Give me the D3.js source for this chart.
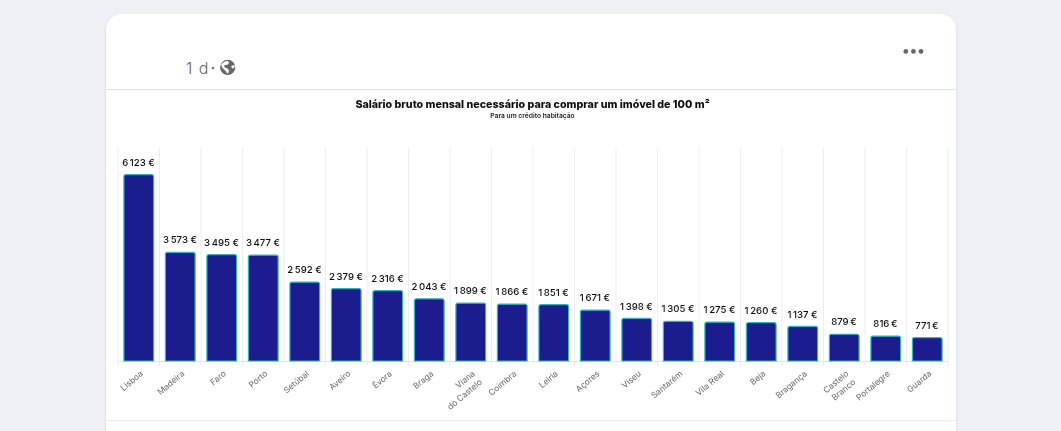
<!DOCTYPE html>
<html><head><meta charset="utf-8">
<script src="https://cdn.jsdelivr.net/npm/d3@7"></script>
<style>
html,body{margin:0;padding:0;background:#eff0f5;overflow:hidden}
svg{display:block}
text{font-family:Inter,"Noto Sans",sans-serif}
</style></head><body>
<svg id="c" width="1061" height="431"></svg>
<script>
const categories=["Lisboa","Madeira","Faro","Porto","Setúbal","Aveiro","Évora","Braga","Viana|do Castelo","Coimbra","Leiria","Açores","Viseu","Santarém","Vila Real","Beja","Bragança","Castelo|Branco","Portalegre","Guarda"];
const values=[6123,3573,3495,3477,2592,2379,2316,2043,1899,1866,1851,1671,1398,1305,1275,1260,1137,879,816,771];
const valueLabels=["6 123 €","3 573 €","3 495 €","3 477 €","2 592 €","2 379 €","2 316 €","2 043 €","1 899 €","1 866 €","1 851 €","1 671 €","1 398 €","1 305 €","1 275 €","1 260 €","1 137 €","879 €","816 €","771 €"];
const titleText="Salário bruto mensal necessário para comprar um imóvel de 100 m²";
const subtitleText="Para um crédito habitação";
const timeText="1 d";
const sepText="·";

const svg=d3.select("#c");
const defs=svg.append("defs");
const sh=defs.append("filter").attr("id","sh").attr("x","-5%").attr("y","-5%").attr("width","110%").attr("height","110%");
sh.append("feDropShadow").attr("dx",0).attr("dy",1).attr("stdDeviation",1).attr("flood-color","#000").attr("flood-opacity",0.14);
const soft=defs.append("filter").attr("id","soft").attr("x","-2%").attr("y","-2%").attr("width","104%").attr("height","104%");
soft.append("feGaussianBlur").attr("stdDeviation",0.4);

// card
svg.append("rect").attr("x",106).attr("y",14).attr("width",850).attr("height",450).attr("rx",16).attr("fill","#fff").attr("filter","url(#sh)");
svg.append("line").attr("x1",106).attr("x2",956).attr("y1",89.5).attr("y2",89.5).attr("stroke","#e2e3e6");
svg.append("line").attr("x1",106).attr("x2",956).attr("y1",420.5).attr("y2",420.5).attr("stroke","#eceded");

// header
svg.append("text").attr("x",186).attr("y",73.5).attr("font-size",16).attr("font-weight",300).attr("letter-spacing",1).attr("fill","#65676b").text(timeText);
svg.append("text").attr("x",213).attr("y",73.5).attr("text-anchor","middle").attr("font-size",16).attr("font-weight",500).attr("fill","#65676b").text(sepText);
const globe=svg.append("g").attr("transform","translate(227.7,67.4)");
globe.append("circle").attr("r",7.6).attr("fill","#65676b");
globe.append("path").attr("fill","#fff").attr("d","M-6.5,-3.2 C-4.5,-5 -2.5,-6.3 -0.5,-6.6 L1.5,-4.6 L-0.2,-2.6 L-3.6,-2.2 L-3,0.2 L-0.4,0.8 L1.4,3.2 L0.2,6.4 C-1.2,5.6 -2,3.4 -3.2,2.4 C-4.8,1.2 -6.4,-0.6 -6.5,-3.2 Z M3.4,-1.4 L6.6,-2.4 L6.8,0.4 L4.4,1.2 Z");
svg.append("g").attr("fill","#65676b").selectAll("circle").data([905.8,913.4,921]).join("circle").attr("cx",d=>d).attr("cy",51.4).attr("r",2.4);

// chart
const root=svg.append("g").attr("filter","url(#soft)");
root.append("text").attr("x",532.5).attr("y",108).attr("text-anchor","middle").attr("font-size",10.7).attr("font-weight",800).attr("fill","#111").text(titleText);
root.append("text").attr("x",532.5).attr("y",117.5).attr("text-anchor","middle").attr("font-size",6.7).attr("font-weight",600).attr("fill","#222").text(subtitleText);

const x=d3.scaleBand().domain(categories).range([118,948]).paddingInner(0.285).paddingOuter(0.1425);
const y=d3.scaleLinear().domain([0,7000]).range([361,148]);
const edges=d3.range(categories.length+1).map(i=>x.range()[0]+i*(x.range()[1]-x.range()[0])/categories.length);

root.append("g").selectAll("line").data(edges).join("line")
 .attr("x1",d=>d).attr("x2",d=>d).attr("y1",y(7000)-1).attr("y2",y(0)+5).attr("stroke","#ecedef").attr("stroke-width",1);
root.append("line").attr("x1",118).attr("x2",948).attr("y1",y(0)+.5).attr("y2",y(0)+.5).attr("stroke","#e4e5e8");

const r=2;
root.append("g").selectAll("path").data(values).join("path")
 .attr("d",(d,i)=>{const a=x(categories[i]),w=x.bandwidth(),t=y(d),b=y(0);
   return `M${a},${b}V${t+r}Q${a},${t} ${a+r},${t}H${a+w-r}Q${a+w},${t} ${a+w},${t+r}V${b}Z`;})
 .attr("fill","#1f1a8f").attr("stroke","#30b4b8").attr("stroke-width",1.2);

root.append("g").selectAll("text").data(valueLabels).join("text")
 .attr("x",(d,i)=>x(categories[i])+x.bandwidth()/2-.3).attr("y",(d,i)=>y(values[i])-8.8)
 .attr("text-anchor","middle").attr("font-size",9.6).attr("font-weight",500).attr("fill","#111").text(d=>d.replace(" ","\u2009"));

const axis=root.append("g").attr("transform",`translate(0,${y(0)})`).call(d3.axisBottom(x).tickSize(0).tickPadding(0));
axis.select(".domain").remove();
axis.selectAll(".tick text").each(function(d){
  const t=d3.select(this).attr("y",null).attr("dy",null).text(null)
    .attr("text-anchor","end").attr("font-size",8.4).attr("fill","#666")
    .attr("transform","translate(1,9) rotate(-40)");
  d.split("|").forEach((s,i)=>t.append("tspan").attr("x",0).attr("dy",i?11:6).text(s));
});
</script></body></html>
